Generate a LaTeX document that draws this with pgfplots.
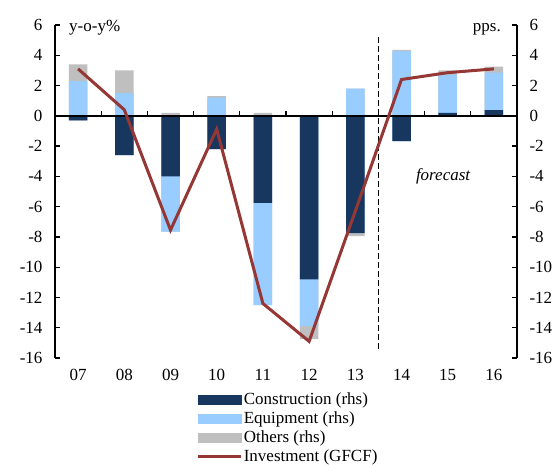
\documentclass[border=0pt]{standalone}
\usepackage{fontspec}
\setmainfont{Liberation Serif}
\usepackage{pgfplots}
\usepackage{pgfplotstable}
\pgfplotsset{compat=1.18}
\definecolor{cConst}{HTML}{17375E}
\definecolor{cEquip}{HTML}{99CCFF}
\definecolor{cOther}{HTML}{BFBFBF}
\definecolor{cInv}{HTML}{953735}

% cumulative bar edges (positive side / negative side), and investment line
\pgfplotstableread{
x pc pe po nc ne no inv
0 0 2.3 3.4 -0.3 -0.3 -0.3 3.1
1 0 1.5 3.0 -2.6 -2.6 -2.6 0.4
2 0 0 0.2 -4.0 -7.65 -7.65 -7.55
3 0 1.2 1.3 -2.2 -2.2 -2.2 -0.88
4 0 0 0.2 -5.75 -12.5 -12.5 -12.4
5 0 0 0 -10.8 -13.9 -14.75 -14.9
6 0 1.8 1.8 -7.75 -7.75 -7.95 -6.3
7 0 4.27 4.35 -1.67 -1.67 -1.67 2.4
8 0.2 2.7 3.0 0 0 0 2.85
9 0.38 2.85 3.25 0 0 0 3.1
}\data

\newcommand{\fs}{\fontsize{17}{18}\selectfont}

\begin{document}
\begin{tikzpicture}
\useasboundingbox (-55pt,-106pt) rectangle (501pt,358pt);
\pgfplotsset{
  common/.style={
    scale only axis, width=462pt, height=333pt,
    xmin=-0.5, xmax=9.5, ymin=-16, ymax=6,
    ytick={-16,-14,...,6},
    /pgf/number format/assume math mode=true,
    tick label style={font=\fs},
    tick align=inside, major tick length=5pt,
    axis line style={line width=1.5pt},
    ytick style={line width=1.2pt, black},
  }
}
\begin{axis}[common, clip=false,
  axis y line*=left, axis x line*=bottom,
  x axis line style={draw=none},
  xtick={0,...,9},
  xticklabels={07,08,09,10,11,12,13,14,15,16},
  xtick style={draw=none},
  xticklabel style={yshift=-8pt},
  yticklabel style={xshift=-9pt},
  legend style={at={(axis description cs:0.3,-0.09)}, anchor=north west,
    draw=none, fill=none, font=\fs, row sep=0pt,
    nodes={inner sep=1pt, text height=13pt, text depth=4pt}},
  legend cell align=left,
]
\addlegendimage{legend image code/.code={\fill[cConst] (0pt,-4.5pt) rectangle (43pt,4.5pt);}}
\addlegendentry{Construction (rhs)}
\addlegendimage{legend image code/.code={\fill[cEquip] (0pt,-4.5pt) rectangle (43pt,4.5pt);}}
\addlegendentry{Equipment (rhs)}
\addlegendimage{legend image code/.code={\fill[cOther] (0pt,-4.5pt) rectangle (43pt,4.5pt);}}
\addlegendentry{Others (rhs)}
\addlegendimage{legend image code/.code={\draw[cInv, line width=3pt] (0pt,0pt) -- (43pt,0pt);}}
\addlegendentry{Investment (GFCF)}

\addplot[ybar, bar width=18.5pt, bar shift=0pt, fill=cOther, draw=none, forget plot] table[x=x,y=po]{\data};
\addplot[ybar, bar width=18.5pt, bar shift=0pt, fill=cOther, draw=none, forget plot] table[x=x,y=no]{\data};
\addplot[ybar, bar width=18.5pt, bar shift=0pt, fill=cEquip, draw=none, forget plot] table[x=x,y=pe]{\data};
\addplot[ybar, bar width=18.5pt, bar shift=0pt, fill=cEquip, draw=none, forget plot] table[x=x,y=ne]{\data};
\addplot[ybar, bar width=18.5pt, bar shift=0pt, fill=cConst, draw=none, forget plot] table[x=x,y=pc]{\data};
\addplot[ybar, bar width=18.5pt, bar shift=0pt, fill=cConst, draw=none, forget plot] table[x=x,y=nc]{\data};

\draw[line width=2pt] (axis cs:-0.5,0) -- (axis cs:9.5,0);
\pgfplotsinvokeforeach{0.5,1.5,2.5,3.5,4.5,5.5,6.5,7.5,8.5}{
  \draw[line width=1.2pt] (axis cs:#1,0) -- ++(0pt,5pt);
}
\draw[line width=1.4pt, dash pattern=on 6pt off 3pt] (axis cs:6.5,5.2) -- (axis cs:6.5,-15.6);

\addplot[sharp plot, cInv, line width=3pt, no markers, forget plot] table[x=x,y=inv]{\data};

\node[font=\fs\itshape] at (axis cs:7.9,-4.0) {forecast};
\node[font=\fs, anchor=base west, inner sep=0pt] at ([xshift=14pt,yshift=-6pt]axis cs:-0.5,6) {y-o-y\%};
\node[font=\fs, anchor=base east, inner sep=0pt] at ([xshift=-16pt,yshift=-6pt]axis cs:9.5,6) {pps.};
\end{axis}
\begin{axis}[common,
  axis y line*=right, axis x line=none,
  yticklabel style={xshift=9pt},
]
\end{axis}
\end{tikzpicture}
\end{document}
